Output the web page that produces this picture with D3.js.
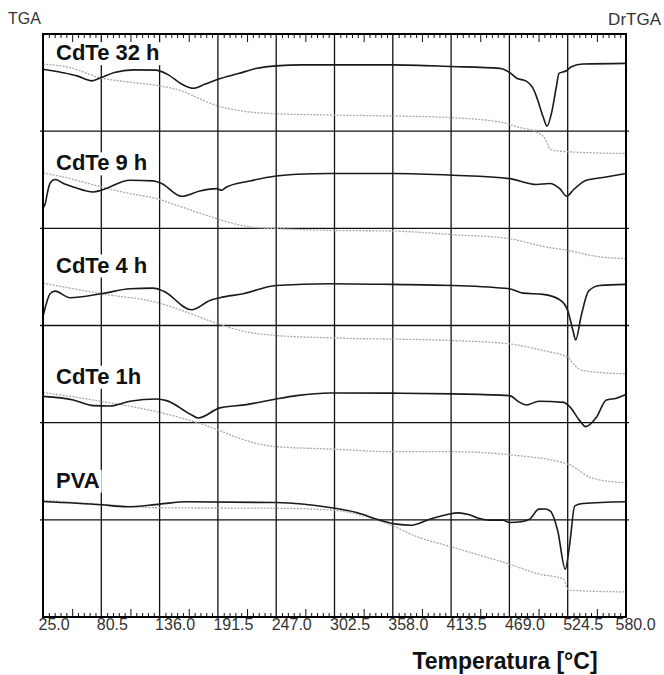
<!DOCTYPE html>
<html>
<head>
<meta charset="utf-8">
<script src="https://cdn.jsdelivr.net/npm/d3@7"></script>
<style>
  html, body { margin: 0; padding: 0; background: #fff; }
  svg { display: block; font-family: "Liberation Sans", Arial, Helvetica, sans-serif; }
</style>
</head>
<body>
<script>
// Temperature axis (°C)
const xTicks = [25.0, 80.5, 136.0, 191.5, 247.0, 302.5, 358.0, 413.5, 469.0, 524.5, 580.0];

// Samples, top to bottom
const samples = ["CdTe 32 h", "CdTe 9 h", "CdTe 4 h", "CdTe 1h", "PVA"];

// Curves as [temperature °C, signal]; signal in tenths of a panel above the panel's lower line
const drtga32h = [[25,6.38],[42.9,6.04],[57.3,5.69],[71.5,5.18],[80.5,5.52],[93,6.04],[110.9,6.31],[132.3,6.28],[143.1,5.87],[157.4,4.82],[168.1,4.41],[178.8,4.82],[191.5,5.34],[211,5.93],[228.9,6.48],[247,6.72],[271.8,6.82],[307.6,6.82],[358,6.82],[413.5,6.66],[459.8,6.46],[469,6.05],[476,5.45],[485,5.15],[491,4.5],[495,3.5],[501,1.5],[504.8,0.52],[509,1.82],[513.7,4.57],[516.2,5.95],[523.2,6.22],[528,6.63],[539,6.91],[580,6.98]];
const tga32h = [[25,6.90],[50,6.56],[78.7,5.52],[110.9,5.0],[136,4.66],[157.4,4.13],[175.3,3.28],[191.5,2.59],[211,2.13],[247,1.79],[302.5,1.66],[358,1.56],[413.5,1.39],[462.9,0.88],[478,0.4],[494.7,-0.07],[503.7,-0.93],[507.4,-1.78],[512,-2.0],[526.4,-2.13],[580,-2.30]];

const drtga9h = [[25,2.1],[27,2.5],[29.5,3.8],[31.7,4.64],[36.4,5.02],[45,4.6],[53.8,4.26],[72.9,3.74],[80.5,3.92],[107.8,4.95],[129.9,4.88],[137.9,4.61],[157,3.30],[174.4,3.85],[190.3,4.09],[195,3.92],[199.8,4.26],[222,4.88],[247,5.39],[266.4,5.57],[298,5.64],[358,5.64],[415.4,5.46],[469,5.12],[494.7,4.51],[507.4,4.61],[516.9,4.09],[523.8,3.30],[529.5,3.92],[542.3,4.95],[558.1,5.23],[580,5.64]];
const tga9h = [[25,5.70],[44.3,5.29],[80.5,4.26],[107.8,3.58],[133.2,3.06],[152.2,2.37],[171.2,1.68],[190.3,1.0],[209.3,0.41],[228.3,0.07],[247,-0.03],[298,-0.21],[358,-0.28],[415.4,-0.65],[469,-1.06],[501,-1.86],[524.5,-2.27],[551.8,-2.89],[580,-3.12]];

const drtga4h = [[25,0.9],[28,2.2],[31.7,3.27],[36.4,3.54],[50.7,2.86],[80.5,3.27],[107.8,3.78],[129.9,3.85],[139.5,3.54],[166.5,1.62],[183.9,2.58],[193.4,2.86],[215.6,3.27],[247,4.12],[298,4.30],[358,4.23],[415.4,4.12],[469,3.78],[482,3.33],[501,3.20],[516.9,2.65],[524.5,1.55],[529.5,-0.52],[532.1,-1.49],[537.4,1.03],[544.5,3.56],[554.9,4.12],[580,4.23]];
const tga4h = [[25,4.36],[80.5,3.27],[136,2.30],[161.7,1.37],[191.5,0.18],[215.6,-0.59],[247,-1.03],[298,-1.27],[415.4,-1.55],[469,-1.89],[501,-2.58],[524.5,-3.27],[531,-4.1],[539,-4.64],[580,-4.98]];

const drtga1h = [[25,2.71],[53.8,2.34],[72.9,1.75],[88.7,1.72],[107.8,2.20],[133.2,2.44],[142.7,2.27],[164.9,0.90],[172.8,0.48],[193.4,1.52],[218.8,1.86],[247,2.44],[266.4,2.78],[298,3.06],[358,3.04],[415.4,2.96],[469,2.78],[478.8,2.09],[485.2,1.82],[497,2.20],[520.5,2.09],[526.4,1.65],[535.9,0.21],[541.6,-0.41],[551.8,0.55],[561.3,2.34],[570.8,2.51],[580,2.89]];
const tga1h = [[25,3.12],[76.1,2.27],[136,1.06],[171.2,0.03],[193.4,-0.82],[218.8,-1.86],[247,-2.47],[298,-2.71],[358,-2.99],[415.4,-2.99],[469,-3.30],[526.4,-4.33],[535,-4.9],[545,-5.6],[552,-5.82],[580,-6.19]];

const drtgaPVA = [[25,1.89],[80.5,1.55],[104.6,1.34],[136,1.62],[161.7,1.86],[247,1.78],[298,1.27],[323.5,0.75],[345.6,-0.03],[361.5,-0.44],[375.8,-0.55],[393.2,0.07],[410,0.55],[420,0.72],[430,0.55],[437.6,0.24],[450.3,-0.03],[462.9,-0.03],[469,-0.28],[480,-0.2],[488.3,0.07],[497,1.10],[503,1.12],[508,0.9],[515,-1.13],[522.2,-5.08],[526.4,-2.51],[531.2,1.44],[539,1.68],[580,1.86]];
const tgaPVA = [[25,2.01],[80.5,1.60],[136,1.24],[247,1.19],[302.5,0.98],[329.1,0.44],[358,-0.62],[379,-1.65],[413.5,-2.78],[469,-4.56],[497,-5.57],[518.8,-6.03],[520.5,-6.1],[524.5,-7.1],[527,-7.25],[580,-7.42]];

const drtgaSeries = [drtga32h, drtga9h, drtga4h, drtga1h, drtgaPVA];
const tgaSeries = [tga32h, tga9h, tga4h, tga1h, tgaPVA];

// ---- layout ----
const W = 664, H = 675;
const plot = { left: 43, right: 626, top: 34, bottom: 617 };
const labelLift = [71, 58, 53, 39, 32];   // sample name baseline above panel line
const labelX = 56;

const svg = d3.select("body").append("svg").attr("width", W).attr("height", H);
svg.append("rect").attr("width", W).attr("height", H).attr("fill", "#fff");

const x = d3.scaleLinear().domain([25, 580]).range([plot.left, plot.right]);
const band = d3.scaleLinear().domain([0, 6]).range([plot.top, plot.bottom]);
const panelY = i => d3.scaleLinear().domain([0, 10]).range([band(i + 1), band(i)]);

// grid
const grid = svg.append("g").attr("stroke", "#111").attr("stroke-width", 1.3);
grid.selectAll("line.v").data(xTicks.slice(1, -1)).join("line")
  .attr("x1", d => x(d)).attr("x2", d => x(d))
  .attr("y1", plot.top).attr("y2", plot.bottom);
grid.selectAll("line.h").data(d3.range(1, 6)).join("line")
  .attr("x1", plot.left - 3).attr("x2", plot.right + 3)
  .attr("y1", d => band(d)).attr("y2", d => band(d));

// sample names (text first to measure, boxes behind)
const boxLayer = svg.append("g");
const curveLayer = svg.append("g").attr("fill", "none");
const nameLayer = svg.append("g");

samples.forEach((name, i) => {
  const t = nameLayer.append("text")
    .attr("x", labelX).attr("y", band(i + 1) - labelLift[i])
    .attr("font-size", 22).attr("font-weight", "bold")
    .attr("fill", "#111").text(name);
  const bb = t.node().getBBox();
  boxLayer.append("rect")
    .attr("x", bb.x - 2).attr("y", bb.y + 2)
    .attr("width", bb.width + 4).attr("height", bb.height - 2)
    .attr("fill", "#fff");
});

// curves
samples.forEach((name, i) => {
  const y = panelY(i);
  const line = d3.line().x(d => x(d[0])).y(d => y(d[1])).curve(d3.curveMonotoneX);
  curveLayer.append("path").datum(tgaSeries[i]).attr("d", line)
    .attr("stroke", "#a9a9a9").attr("stroke-width", 1.3).attr("stroke-dasharray", "2,1.3");
  curveLayer.append("path").datum(drtgaSeries[i]).attr("d", line)
    .attr("stroke", "#1a1a1a").attr("stroke-width", 1.6).attr("stroke-linejoin", "round");
});

// minor / mid ticks along top and bottom edges
const minor = d3.range(0, 101).filter(k => k % 5 !== 0).map(k => 25 + k * 5.55);
const mid = d3.range(0, 101).filter(k => k % 5 === 0 && k % 10 !== 0).map(k => 25 + k * 5.55);
function tickAxes(y0, maker) {
  [[minor, 4], [mid, 8]].forEach(([vals, len]) => {
    const g = svg.append("g").attr("transform", `translate(0,${y0})`)
      .call(maker(x).tickValues(vals).tickSize(len).tickFormat(""));
    g.select(".domain").remove();
    g.selectAll(".tick line").attr("stroke", "#111").attr("stroke-width", 1);
  });
}
tickAxes(plot.top, d3.axisBottom);
tickAxes(plot.bottom, d3.axisTop);

// frame
svg.append("rect")
  .attr("x", plot.left).attr("y", plot.top)
  .attr("width", plot.right - plot.left).attr("height", plot.bottom - plot.top)
  .attr("fill", "none").attr("stroke", "#000").attr("stroke-width", 2);

// temperature labels
const xAxis = svg.append("g").attr("transform", `translate(0,${plot.bottom})`)
  .call(d3.axisBottom(x).tickValues(xTicks).tickSize(0).tickPadding(0).tickFormat(d3.format(".1f")));
xAxis.select(".domain").remove();
xAxis.selectAll(".tick text")
  .attr("font-family", "Liberation Sans, Arial, sans-serif")
  .attr("font-size", 16).attr("fill", "#333")
  .attr("text-anchor", "start").attr("dx", -5).attr("dy", 0).attr("y", 13);
xAxis.selectAll(".tick:last-of-type text").attr("dx", -11);

// titles
svg.append("text").attr("x", 8).attr("y", 24).attr("font-size", 16).attr("fill", "#333").text("TGA");
svg.append("text").attr("x", 661).attr("y", 25).attr("text-anchor", "end")
  .attr("font-size", 17).attr("fill", "#333").text("DrTGA");
svg.append("text").attr("x", 505).attr("y", 669).attr("text-anchor", "middle")
  .attr("font-size", 23).attr("font-weight", "bold").attr("fill", "#111").text("Temperatura [°C]");
</script>
</body>
</html>
